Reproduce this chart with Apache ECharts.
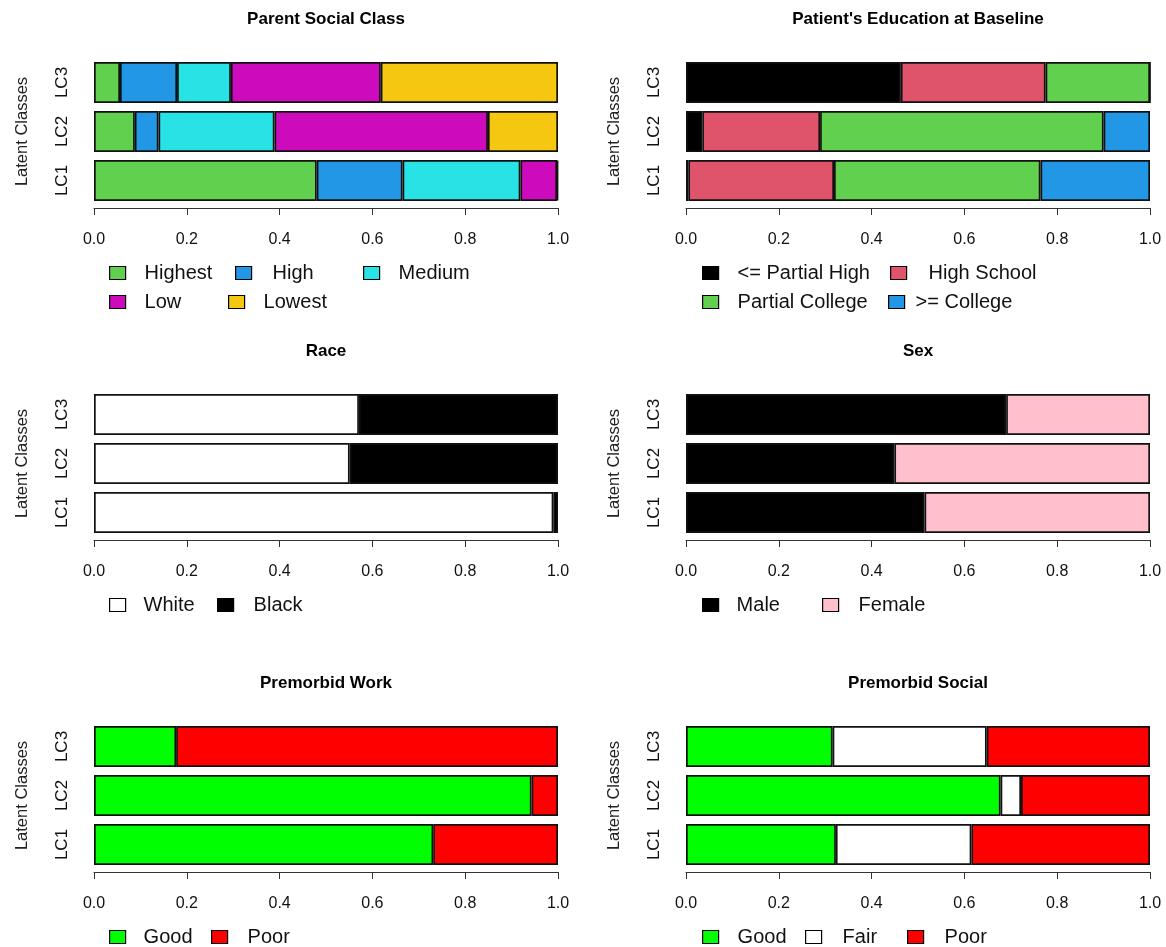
<!DOCTYPE html>
<html>
<head>
<meta charset="utf-8">
<script src="https://cdn.jsdelivr.net/npm/echarts@6/dist/echarts.min.js"></script>
<style>
  html, body { margin: 0; padding: 0; background: #ffffff; }
  #chart { width: 1166px; height: 947px; }
</style>
</head>
<body>
<div id="chart"></div>
<script>
// Latent classes (bottom to top on each panel)
const classes = ['LC1', 'LC2', 'LC3'];
const tickLabels = ['0.0', '0.2', '0.4', '0.6', '0.8', '1.0'];

const panelTitles = ['Parent Social Class', "Patient's Education at Baseline", 'Race', 'Sex', 'Premorbid Work', 'Premorbid Social'];

// Proportions per level; each inner array is [LC1, LC2, LC3]
const parentClassLevels = ['Highest', 'High', 'Medium', 'Low', 'Lowest'];
const parentClassShares = [
  [0.480, 0.088, 0.056],
  [0.185, 0.051, 0.123],
  [0.254, 0.250, 0.116],
  [0.079, 0.460, 0.323],
  [0.002, 0.151, 0.382]
];

const educationLevels = ['<= Partial High', 'High School', 'Partial College', '>= College'];
const educationShares = [
  [0.005, 0.035, 0.463],
  [0.314, 0.254, 0.312],
  [0.445, 0.611, 0.225],
  [0.236, 0.100, 0.000]
];

const raceLevels = ['White', 'Black'];
const raceShares = [
  [0.990, 0.551, 0.571],
  [0.010, 0.449, 0.429]
];

const sexLevels = ['Male', 'Female'];
const sexShares = [
  [0.514, 0.449, 0.690],
  [0.486, 0.551, 0.310]
];

const workLevels = ['Good', 'Poor'];
const workShares = [
  [0.731, 0.943, 0.177],
  [0.269, 0.057, 0.823]
];

const socialLevels = ['Good', 'Fair', 'Poor'];
const socialShares = [
  [0.323, 0.678, 0.316],
  [0.292, 0.044, 0.332],
  [0.385, 0.278, 0.352]
];

// Fill colours for each panel's levels
const palettes = [
  ['#61D04F', '#2297E6', '#28E2E5', '#CD0BBC', '#F5C710'],
  ['#000000', '#DF536B', '#61D04F', '#2297E6'],
  ['#FFFFFF', '#000000'],
  ['#000000', '#FFC0CB'],
  ['#00FF00', '#FF0000'],
  ['#00FF00', '#FFFFFF', '#FF0000']
];

// Legend item placement: [icon left x, row (0/1), extra gap before text]
const legendSpots = [
  [[109, 0, 14], [235, 0, 16], [363, 0, 14], [109, 1, 14], [228, 1, 14]],
  [[702, 0, 14], [890, 0, 17], [702, 1, 14], [888, 1, 6]],
  [[109, 0, 13], [217, 0, 15]],
  [[702, 0, 13], [822, 0, 15]],
  [[109, 0, 13], [211, 0, 15]],
  [[702, 0, 14], [805, 0, 16], [907, 0, 16]]
];

const panels = [
  { levels: parentClassLevels, shares: parentClassShares },
  { levels: educationLevels, shares: educationShares },
  { levels: raceLevels, shares: raceShares },
  { levels: sexLevels, shares: sexShares },
  { levels: workLevels, shares: workShares },
  { levels: socialLevels, shares: socialShares }
];

const FONT = '"Liberation Sans", Arial, sans-serif';
const TEXT = '#111111';
const colLeft = [94, 686];
const plotWidth = 464;
const rowStep = 332;

const grid = [], xAxis = [], yAxis = [], series = [], title = [], legend = [];

panels.forEach((panel, p) => {
  const col = p % 2, row = Math.floor(p / 2);
  const top = 58 + rowStep * row;

  grid.push({ left: colLeft[col], top: top, width: plotWidth, height: 147 });

  title.push({
    text: panelTitles[p],
    left: colLeft[col] + plotWidth / 2,
    top: 11 + rowStep * row,
    textAlign: 'center',
    padding: 0,
    textStyle: { fontFamily: FONT, fontSize: 17, fontWeight: 'bold', color: '#000' }
  });

  xAxis.push({
    gridIndex: p,
    type: 'value',
    min: 0, max: 1, interval: 0.2,
    offset: 3,
    axisLine: { show: true, lineStyle: { color: '#333', width: 1 } },
    axisTick: { show: true, length: 7, lineStyle: { color: '#333', width: 1 } },
    axisLabel: {
      margin: 24, fontSize: 16, fontFamily: FONT, color: TEXT,
      formatter: v => tickLabels[Math.round(v / 0.2)]
    },
    splitLine: { show: false }
  });

  yAxis.push({
    gridIndex: p,
    type: 'category',
    data: classes,
    axisLine: { show: false },
    axisTick: { show: false },
    axisLabel: { rotate: 90, margin: 23, fontSize: 17, fontFamily: FONT, color: TEXT },
    name: 'Latent Classes',
    nameLocation: 'middle',
    nameRotate: 90,
    nameGap: 63,
    nameTextStyle: { fontSize: 16.5, fontFamily: FONT, color: '#222' }
  });

  panel.levels.forEach((level, k) => {
    const color = palettes[p][k];
    series.push({
      type: 'bar',
      name: level,
      stack: 'panel' + p,
      xAxisIndex: p,
      yAxisIndex: p,
      barWidth: 41,
      silent: true,
      animation: false,
      data: panel.shares[k],
      itemStyle: { color: color, borderColor: '#111', borderWidth: 1.7 }
    });

    const spot = legendSpots[p][k];
    const centerY = 273 + rowStep * row + spot[1] * 29;
    legend.push({
      data: [{ name: level, icon: 'rect', itemStyle: { color: color, borderColor: '#000', borderWidth: 1.2 } }],
      left: spot[0],
      top: centerY - 10,
      padding: 0,
      itemWidth: 16,
      itemHeight: 13,
      selectedMode: false,
      textStyle: { fontFamily: FONT, fontSize: 20, lineHeight: 20, color: TEXT, padding: [0, 0, 0, spot[2]] }
    });
  });
});

const chart = echarts.init(document.getElementById('chart'), null, { renderer: 'canvas' });
chart.setOption({
  backgroundColor: '#ffffff',
  animation: false,
  title, grid, xAxis, yAxis, legend, series
});
</script>
</body>
</html>
